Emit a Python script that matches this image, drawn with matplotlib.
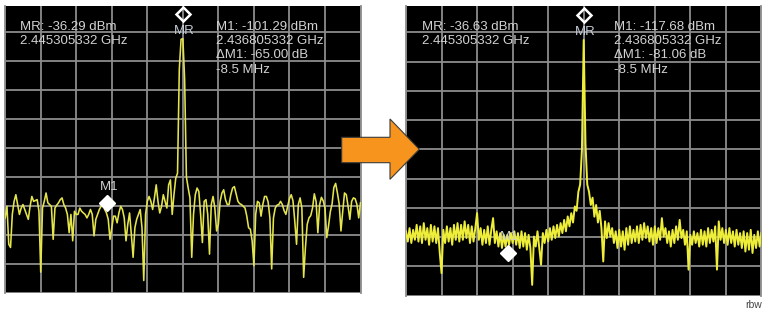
import numpy as np
import matplotlib
matplotlib.use('Agg')
import matplotlib.pyplot as plt
from matplotlib.patches import Polygon
from matplotlib.transforms import offset_copy

plt.rcParams['font.family'] = ['Liberation Sans', 'DejaVu Sans']

# ---------------- data ----------------
span_mhz = 40
n_points = 201
freq_offset_mhz = np.linspace(-span_mhz / 2, span_mhz / 2, n_points)

left_trace_dbm = [
    -98.1, -94.1, -107.2, -108.3, -96.9, -92.4, -90.1, -93.5, -96.9, -94.7,
    -93.5, -95.2, -96.9, -98.6, -94.1, -90.7, -92.4, -92.1, -91.8, -95.8,
    -116.8, -94.7, -92.4, -89.5, -92.9, -93.5, -94.1, -105.5, -94.7, -93.7,
    -92.9, -91.8, -91.2, -93.5, -94.7, -96.9, -103.2, -96.9, -106.0, -95.8,
    -96.9, -96.9, -94.7, -95.8, -96.4, -96.9, -98.1, -96.9, -95.2, -96.9,
    -104.3, -98.6, -96.9, -95.2, -94.1, -92.9, -95.2, -96.4, -98.6, -105.5,
    -101.5, -97.5, -97.5, -99.8, -96.4, -94.1, -95.2, -98.1, -106.0, -100.3,
    -96.4, -103.8, -111.7, -101.5, -98.6, -96.9, -95.2, -101.5, -119.7, -96.9,
    -92.4, -90.7, -92.4, -95.2, -91.2, -86.7, -92.4, -96.4, -94.1, -90.1,
    -92.4, -94.7, -86.7, -85.0, -96.9, -90.1, -84.4, -82.7, -46.9, -36.5,
    -36.29, -50.3, -84.0, -87.8, -91.2, -111.7, -96.9, -90.1, -87.8, -89.0,
    -96.9, -106.6, -92.4, -91.8, -96.9, -110.6, -93.5, -90.7, -94.7, -102.6,
    -100.3, -92.4, -89.5, -88.4, -91.8, -93.5, -93.5, -90.1, -87.8, -87.3,
    -89.9, -92.4, -93.2, -93.5, -94.1, -94.7, -97.5, -101.5, -102.0, -106.0,
    -114.6, -96.9, -92.4, -92.9, -97.5, -93.5, -90.7, -90.7, -92.6, -98.1,
    -115.7, -98.1, -94.7, -93.7, -93.5, -92.4, -93.5, -95.6, -96.9, -94.1,
    -91.5, -90.1, -92.2, -99.2, -107.2, -93.5, -91.2, -94.7, -118.6, -108.3,
    -100.3, -98.1, -97.3, -94.7, -89.8, -92.4, -103.2, -93.5, -91.0, -92.2,
    -94.7, -104.9, -100.9, -96.0, -93.3, -87.6, -86.2, -89.5, -93.3, -102.6,
    -95.8, -89.5, -90.1, -94.1, -98.6, -92.4, -91.2, -91.5, -93.5, -98.1,
    -92.9,
]

right_trace_dbm = [
    -102.0, -105.5, -100.9, -106.0, -101.5, -104.9, -99.8, -105.5, -100.3, -106.0,
    -99.2, -104.9, -100.9, -106.6, -99.8, -105.5, -100.3, -106.0, -100.9, -109.4,
    -116.3, -101.5, -106.0, -100.3, -105.5, -100.9, -106.6, -99.8, -104.9, -99.2,
    -105.5, -99.8, -104.9, -98.6, -104.3, -99.8, -106.0, -100.3, -105.5, -100.9,
    -95.8, -104.9, -100.9, -106.6, -101.5, -106.0, -100.3, -106.6, -101.5, -97.5,
    -106.0, -102.0, -107.2, -102.6, -107.7, -103.2, -107.2, -103.2, -106.6, -102.6,
    -106.0, -102.0, -106.6, -102.6, -107.7, -102.0, -107.2, -102.6, -108.3, -103.2,
    -107.7, -120.3, -103.8, -107.2, -102.0, -107.7, -113.4, -102.6, -106.0, -101.5,
    -105.5, -100.9, -104.9, -100.3, -104.3, -99.8, -103.8, -99.2, -102.6, -98.1,
    -102.0, -96.9, -100.3, -95.8, -99.0, -93.5, -95.0, -88.5, -86.0, -74.2,
    -36.63, -72.0, -86.0, -88.5, -93.0, -90.5, -97.0, -93.0, -99.0, -95.0,
    -101.0, -112.3, -98.6, -104.3, -99.2, -103.8, -100.9, -106.0, -102.0, -107.7,
    -101.5, -107.2, -102.0, -108.3, -100.9, -106.6, -100.3, -106.0, -101.5, -105.5,
    -100.3, -106.0, -99.8, -104.9, -99.2, -104.3, -100.3, -105.5, -100.9, -106.6,
    -100.3, -106.0, -100.9, -104.9, -97.5, -103.8, -100.9, -106.0, -102.0, -107.2,
    -101.5, -106.0, -100.3, -104.9, -98.1, -104.3, -101.5, -106.6, -102.0, -115.1,
    -103.2, -106.6, -102.0, -106.0, -102.6, -107.2, -101.5, -106.6, -102.0, -107.2,
    -100.9, -106.0, -101.5, -105.5, -100.3, -115.1, -98.6, -104.9, -100.9, -106.0,
    -101.5, -106.6, -100.9, -106.0, -102.0, -107.2, -101.5, -106.6, -102.6, -107.7,
    -102.0, -108.9, -102.6, -108.3, -101.5, -109.4, -103.2, -107.7, -102.0, -107.2,
    -102.6,
]

mr_level_dbm = [-36.29, -36.63]
m1_level_dbm = [-101.29, -117.68]
delta_m1_db = [-65.00, -81.06]
m1_offset_mhz = -8.5
mr_freq_ghz = "2.445305332"
m1_freq_ghz = "2.436805332"

ref_grid_dbm = -34
db_per_div = 10
mhz_per_div = 4

# ---------------- layout ----------------
W, H = 769, 313
fig = plt.figure(figsize=(W / 100, H / 100), dpi=100)
fig.patch.set_facecolor('white')


def fx(x):
    return x / W


def fy(y):
    return 1 - y / H


panels = [
    dict(box=(5.2, 5.5, 360.5, 293.0), ylim=(-122.98, -24.85),
         trace=left_trace_dbm, color='#e4e44c', lw=1.15,
         mr_x=19.5, m1_x=216.0, idx=0),
    dict(box=(406.0, 5.5, 761.4, 296.0), ylim=(-124.1, -24.85),
         trace=right_trace_dbm, color='#eeee3a', lw=1.4,
         mr_x=421.7, m1_x=614.5, idx=1),
]

grid_col = '#8c8c8c'
text_col = '#d2d2d2'
fs = 9.5

for p in panels:
    x0, y0, x1, y1 = p['box']
    ax = fig.add_axes([fx(x0), fy(y1), (x1 - x0) / W, (y1 - y0) / H])
    ax.set_facecolor('black')
    ax.set_xlim(-span_mhz / 2, span_mhz / 2)
    ax.set_ylim(*p['ylim'])
    ax.set_xticks(np.arange(-span_mhz / 2, span_mhz / 2 + 0.1, mhz_per_div))
    ax.set_yticks(ref_grid_dbm - db_per_div * np.arange(0, 10))
    ax.grid(True, color=grid_col, lw=1.3)
    ax.set_axisbelow(True)
    ax.tick_params(length=0, labelbottom=False, labelleft=False)
    for side in ['top', 'bottom']:
        ax.spines[side].set_visible(False)
    for side in ['left', 'right']:
        ax.spines[side].set_color(grid_col)
        ax.spines[side].set_linewidth(1.3)

    ax.plot(freq_offset_mhz, p['trace'], color=p['color'], lw=p['lw'], zorder=3)

    i = p['idx']
    mr = mr_level_dbm[i]
    m1 = m1_level_dbm[i]

    t_diam = offset_copy(ax.transData, fig=fig, x=0, y=24.5, units='dots')
    t_mrlab = offset_copy(ax.transData, fig=fig, x=1.5, y=4.5, units='dots')
    t_m1lab = offset_copy(ax.transData, fig=fig, x=1.5, y=37.5, units='dots')

    ax.plot([0], [mr], marker='D', ms=7.3, mfc='none', mec='white', mew=1.8,
            transform=t_diam, clip_on=False, zorder=5)
    ax.text(0, mr, 'MR', transform=t_mrlab, ha='center', va='baseline',
            fontsize=fs, color='#c4ccd6', zorder=5)
    ax.plot([m1_offset_mhz], [m1], marker='D', ms=8, mfc='white', mec='white',
            mew=1, transform=t_diam, clip_on=False, zorder=5)
    ax.text(m1_offset_mhz, m1, 'M1', transform=t_m1lab, ha='center',
            va='baseline', fontsize=fs, color='#cfcfcf', zorder=6)

    fig.text(fx(p['mr_x']), fy(30), f"MR: {mr:.2f} dBm", fontsize=fs,
             color=text_col, va='baseline', ha='left')
    fig.text(fx(p['mr_x']), fy(44), f"{mr_freq_ghz} GHz", fontsize=fs,
             color=text_col, va='baseline', ha='left')
    m1_lines = [f"M1: {m1:.2f} dBm", f"{m1_freq_ghz} GHz",
                f"ΔM1: {delta_m1_db[i]:.2f} dB", f"{m1_offset_mhz} MHz"]
    for k, s in enumerate(m1_lines):
        fig.text(fx(p['m1_x']), fy(29.7 + 14.3 * k), s, fontsize=fs,
                 color=text_col, va='baseline', ha='left')

# orange arrow between panels
arrow_px = [(341.7, 137.3), (390.0, 137.3), (390.0, 119.0), (419.3, 149.3),
            (390.0, 179.3), (390.0, 162.7), (341.7, 162.7)]
arrow = Polygon([(fx(x), fy(y)) for x, y in arrow_px], closed=True,
                transform=fig.transFigure, facecolor='#f7941e',
                edgecolor='#3a3a3a', lw=0.8, zorder=20)
fig.add_artist(arrow)

fig.text(fx(761.5), fy(308.3), 'rbw', ha='right', va='baseline',
         fontsize=7.5, color='#444444')

fig.savefig('out.png', dpi=100, facecolor='white')
